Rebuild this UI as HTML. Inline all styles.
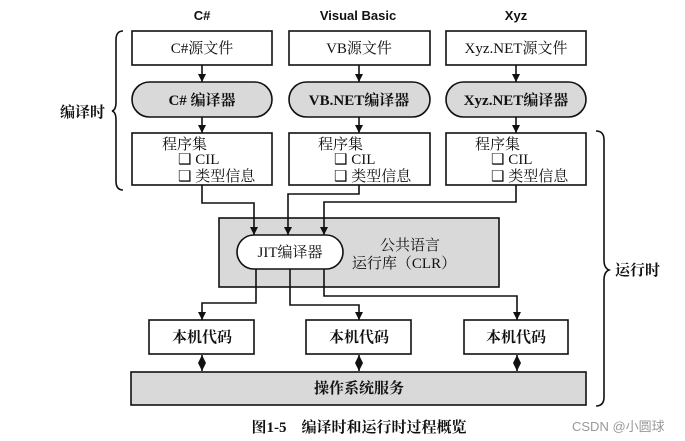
<!DOCTYPE html>
<html><head><meta charset="utf-8"><style>
html,body{margin:0;padding:0;background:#fff;}
svg{display:block;}
.s{font-family:"Liberation Serif","Noto Serif CJK SC",serif;font-size:15px;fill:#111;}
.h{font-family:"Liberation Sans","Noto Sans CJK SC",sans-serif;font-size:13px;font-weight:bold;fill:#111;}
.b{fill:#fff;stroke:#111;stroke-width:1.6;}
.g{fill:#d9d9d9;stroke:#111;stroke-width:1.6;}
.l{fill:none;stroke:#111;stroke-width:1.6;}
</style></head><body>
<svg width="685" height="441" viewBox="0 0 685 441" xmlns="http://www.w3.org/2000/svg">
<defs>
<marker id="d" viewBox="0 0 8 8" markerWidth="8" markerHeight="8" refX="8" refY="4" orient="auto-start-reverse" markerUnits="userSpaceOnUse"><path d="M0,0 L8,4 L0,8 Z" fill="#111"/></marker></defs>
<text class="h" x="202" y="20" text-anchor="middle">C#</text>
<text class="h" x="358" y="20" text-anchor="middle">Visual Basic</text>
<text class="h" x="516" y="20" text-anchor="middle">Xyz</text>
<rect class="b" x="132" y="31" width="140" height="34"/>
<rect class="b" x="289" y="31" width="141" height="34"/>
<rect class="b" x="446" y="31" width="140" height="34"/>
<text class="s" x="202" y="53" text-anchor="middle">C#源文件</text>
<text class="s" x="359" y="53" text-anchor="middle">VB源文件</text>
<text class="s" x="516" y="53" text-anchor="middle">Xyz.NET源文件</text>
<rect class="g" x="132" y="82" width="140" height="35" rx="17.5"/>
<rect class="g" x="289" y="82" width="141" height="35" rx="17.5"/>
<rect class="g" x="446" y="82" width="140" height="35" rx="17.5"/>
<text class="s" x="202" y="105" text-anchor="middle" font-weight="bold">C# 编译器</text>
<text class="s" x="359" y="105" text-anchor="middle" font-weight="bold">VB.NET编译器</text>
<text class="s" x="516" y="105" text-anchor="middle" font-weight="bold">Xyz.NET编译器</text>
<rect class="b" x="132" y="133" width="140" height="52"/>
<rect class="b" x="289" y="133" width="141" height="52"/>
<rect class="b" x="446" y="133" width="140" height="52"/>
<g class="s">
<text x="162" y="149">程序集</text><text x="178" y="164">❑ CIL</text><text x="178" y="181">❑ 类型信息</text>
<text x="318" y="149">程序集</text><text x="334" y="164">❑ CIL</text><text x="334" y="181">❑ 类型信息</text>
<text x="475" y="149">程序集</text><text x="491" y="164">❑ CIL</text><text x="491" y="181">❑ 类型信息</text>
</g>
<g class="l">
<line x1="202" y1="65" x2="202" y2="82" marker-end="url(#d)"/>
<line x1="359" y1="65" x2="359" y2="82" marker-end="url(#d)"/>
<line x1="516" y1="65" x2="516" y2="82" marker-end="url(#d)"/>
<line x1="202" y1="117" x2="202" y2="133" marker-end="url(#d)"/>
<line x1="359" y1="117" x2="359" y2="133" marker-end="url(#d)"/>
<line x1="516" y1="117" x2="516" y2="133" marker-end="url(#d)"/>
</g>
<rect class="g" x="219" y="218" width="280" height="69"/>
<g class="l">
<polyline points="202,185 202,203 254,203 254,235" marker-end="url(#d)"/>
<polyline points="359,185 359,194 288,194 288,235" marker-end="url(#d)"/>
<polyline points="516,185 516,202 324,202 324,235" marker-end="url(#d)"/>
</g>
<rect class="b" x="237" y="235" width="106" height="34" rx="17"/>
<text class="s" x="290" y="257" text-anchor="middle">JIT编译器</text>
<text class="s" x="410" y="250" text-anchor="middle">公共语言</text>
<text class="s" x="404" y="268" text-anchor="middle">运行库（CLR）</text>
<g class="l">
<polyline points="256,269 256,303 202,303 202,320" marker-end="url(#d)"/>
<polyline points="290,269 290,305 359,305 359,320" marker-end="url(#d)"/>
<polyline points="324,269 324,296 517,296 517,320" marker-end="url(#d)"/>
</g>
<rect class="b" x="149" y="320" width="105" height="34"/>
<rect class="b" x="306" y="320" width="105" height="34"/>
<rect class="b" x="464" y="320" width="104" height="34"/>
<text class="s" x="202" y="342" text-anchor="middle" font-weight="bold">本机代码</text>
<text class="s" x="359" y="342" text-anchor="middle" font-weight="bold">本机代码</text>
<text class="s" x="516" y="342" text-anchor="middle" font-weight="bold">本机代码</text>
<rect class="g" x="131" y="372" width="455" height="33"/>
<text class="s" x="359" y="393" text-anchor="middle" font-weight="bold">操作系统服务</text>
<g class="l">
<line x1="202" y1="355" x2="202" y2="371" marker-start="url(#d)" marker-end="url(#d)"/>
<line x1="359" y1="355" x2="359" y2="371" marker-start="url(#d)" marker-end="url(#d)"/>
<line x1="517" y1="355" x2="517" y2="371" marker-start="url(#d)" marker-end="url(#d)"/>
</g>
<path class="l" stroke-width="2" d="M123,31 Q116,31 116,40 L116,102 Q116,110 112,111 Q116,112 116,120 L116,181 Q116,190 123,190"/>
<path class="l" stroke-width="2.2" d="M596,131 Q604,131 604,140 L604,260 Q604,268 609,270 Q604,272 604,280 L604,397 Q604,406 596,406"/>
<text class="s" x="60" y="117" font-weight="bold">编译时</text>
<text class="s" x="615" y="275" font-weight="bold">运行时</text>
<text class="s" x="359" y="432" text-anchor="middle" font-weight="bold">图1-5　编译时和运行时过程概览</text>
<text x="572" y="431" font-family="Liberation Sans,'Noto Sans CJK SC',sans-serif" font-size="13" fill="#999">CSDN @小圆球</text>
</svg>
</body></html>
